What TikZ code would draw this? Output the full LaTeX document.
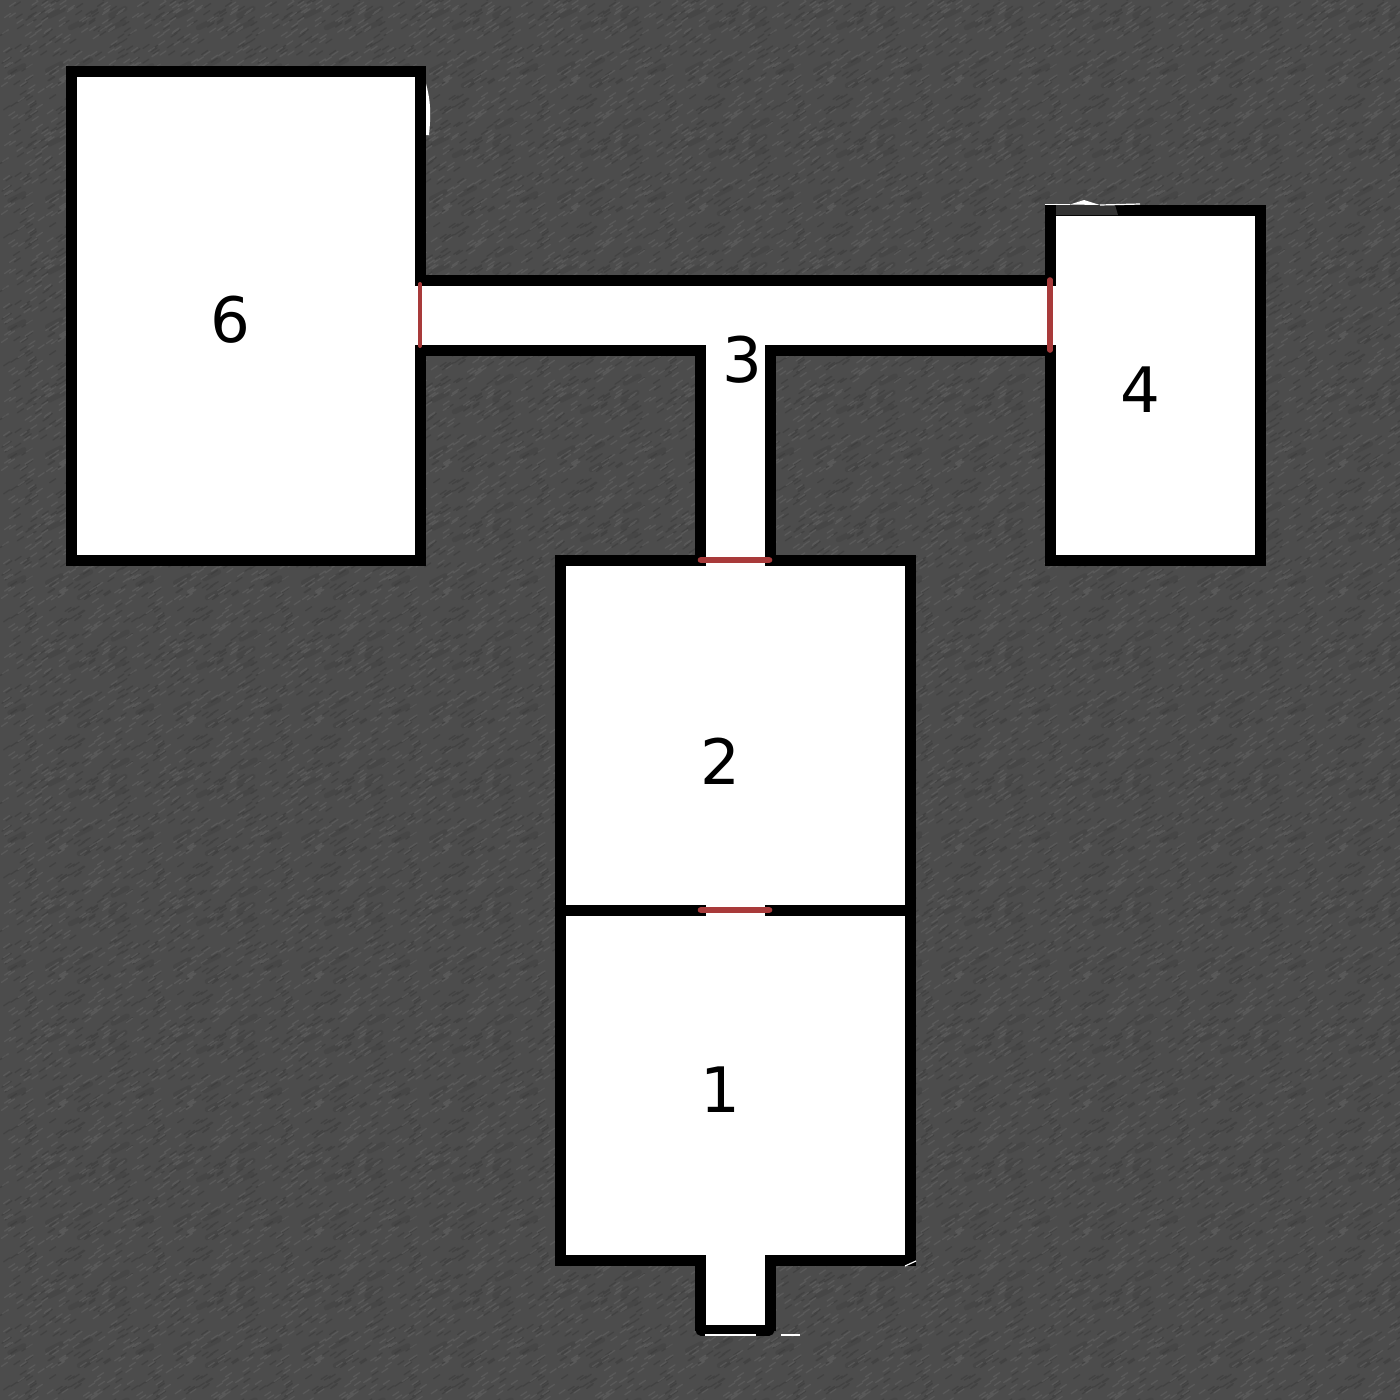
\documentclass[tikz,border=0pt]{standalone}
\usepackage{fontspec}
\setmainfont{DejaVu Sans}
\definecolor{stone}{HTML}{4C4C4C}
\definecolor{stonedark}{HTML}{3A3A3A}
\definecolor{stonelight}{HTML}{666666}
\definecolor{doorred}{HTML}{A83A3A}
\definecolor{patchgrey}{HTML}{333333}
\tikzset{every picture/.style={line width=0.75pt}}
\tikzset{
	wall/.style={draw=black,line width=8.25pt,line cap=rect,line join=miter},
	sill/.style={draw=black,line width=8.25pt,line cap=round},
	door/.style={draw=doorred,line width=5pt,line cap=round},
	sidedoor/.style={draw=doorred,line width=4.2pt,line cap=round},
	thindoor/.style={draw=doorred,line width=3pt,line cap=round},
	floorpart/.style={fill=white,draw=none},
	chip/.style={draw=white,line width=0.9pt},
	grain/.style={line width=1pt,line cap=round,opacity=0.5},
	blotch/.style={draw=stonedark,line width=4pt,line cap=round,opacity=0.3},
	roomlabel/.style={inner sep=0.75pt,font=\fontsize{47}{47}\selectfont,text=black}
}
\begin{document}
\begin{tikzpicture}[x=0.75pt,y=0.75pt,yscale=-1,xscale=1]
		\useasboundingbox (0,0) rectangle (1400,1400);

		%Background
		\fill [stone] (0,0) rectangle (1400,1400);
		%Stone grain, the same tile each time
		\foreach \tx in {0,128,...,1280} {
			\foreach \ty in {0,128,...,1280} {
				\pgfmathsetseed{4217}
				\draw [blotch] \foreach \i in {1,...,9} { ({\tx+128*rnd},{\ty+128*rnd}) -- ++(14,-7) };
				\draw [grain,draw=stonedark] \foreach \i in {1,...,130} { ({\tx+128*rnd},{\ty+128*rnd}) -- ++(6,-4) };
				\draw [grain,draw=stonelight] \foreach \i in {1,...,130} { ({\tx+128*rnd},{\ty+128*rnd}) -- ++(6,-4) };
			}
		}

		%Floors
		\fill [floorpart] (71,71) rectangle (420,560);
		\fill [floorpart] (1050,210) rectangle (1260,560);
		\fill [floorpart] (420,280) rectangle (1050,350);
		\fill [floorpart] (700,350) rectangle (770,560);
		\fill [floorpart] (560,560) rectangle (910,1260);
		\fill [floorpart] (700,1260) rectangle (770,1330);

		%Damaged spot behind room 6
		\fill [white] (424,76) .. controls (429,95) and (432,105) .. (429,135) -- (424,135) -- cycle;

		%Room 6
		\draw [wall] (420,280) -- (420,71) -- (71,71) -- (71,560) -- (420,560) -- (420,350);
		%Corridor
		\draw [wall] (420,280) -- (1050,280);
		\draw [wall] (420,350) -- (700,350) -- (700,555);
		\draw [wall] (1050,350) -- (770,350) -- (770,555);
		%Room 4
		\draw [wall] (1050,280) -- (1050,210) -- (1260,210) -- (1260,560) -- (1050,560) -- (1050,350);
		%Room 2 and room 1
		\draw [wall] (700,560) -- (560,560) -- (560,1260) -- (700,1260) -- (700,1325);
		\draw [wall] (770,560) -- (910,560) -- (910,1260) -- (770,1260) -- (770,1325);
		\draw [wall] (560,910) -- (700,910);
		\draw [wall] (770,910) -- (910,910);
		\draw [sill] (701,1330) -- (769,1330);

		%Damaged spots
		\fill [patchgrey] (1056,205) -- (1115,205) -- (1118,215) -- (1056,215) -- cycle;
		\fill [white] (1070,204.5) -- (1084,200) -- (1100,205) -- cycle;
		\draw [chip] (1045,204.5) -- (1070,204.5);
		\draw [chip] (1100,205) -- (1140,204);
		\draw [chip] (781,1335) -- (800,1335);
		\draw [chip] (705,1335) -- (756,1335);
		\draw [chip] (905,1266) -- (916,1261);

		%Doors
		\draw [thindoor] (420,284) -- (420,346);
		\draw [sidedoor] (1050,280) -- (1050,350);
		\draw [door] (701,560) -- (769,560);
		\draw [door] (701,910) -- (769,910);

		% Text Node
		\node [roomlabel] (room6) at (230,320) {6};
		\node [roomlabel] (room3) at (742,360) {3};
		\node [roomlabel] (room4) at (1140,390) {4};
		\node [roomlabel] (room2) at (720,761) {2};
		\node [roomlabel] (room1) at (720,1090) {1};

	\end{tikzpicture}
\end{document}
